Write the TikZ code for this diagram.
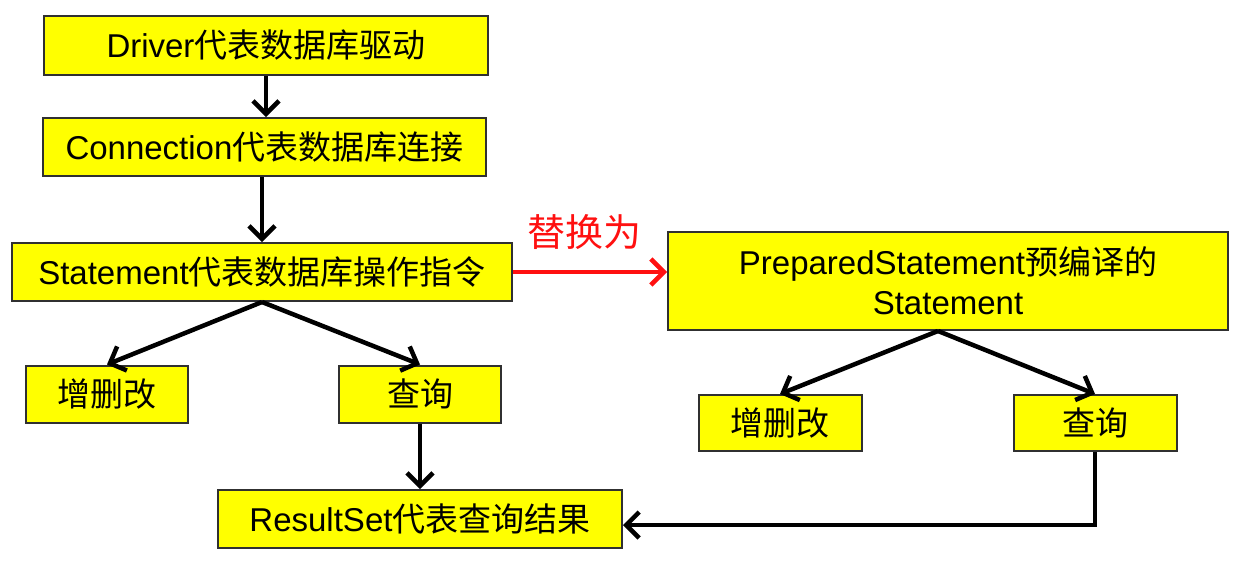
\documentclass[tikz,border=0pt]{standalone}
\usepackage{fontspec}
\setmainfont{Liberation Sans}
\newfontfamily\cjk{Noto Sans CJK SC}
\usetikzlibrary{arrows.meta}
\definecolor{boxyellow}{HTML}{FFFF00}
\definecolor{boxline}{HTML}{303030}
\definecolor{redarrow}{HTML}{FF1010}
\tikzset{
  ybox/.style={draw=boxline, line width=2pt, fill=boxyellow, inner sep=0pt,
    font=\fontsize{33}{40}\selectfont, align=center},
  conn/.style={line width=4.5pt, -{Straight Barb[length=13pt,width=26pt]}},
  redconn/.style={conn, draw=redarrow}
}
\begin{document}
\begin{tikzpicture}[x=1pt,y=-1pt]
\useasboundingbox (0,0) rectangle (1242,563);
\node[ybox, minimum width=444pt, minimum height=59pt] (drv) at (266,45.5) {Driver{\cjk 代表数据库驱动}};
\node[ybox, minimum width=443pt, minimum height=58pt] (cnx) at (264.5,147) {Connection{\cjk 代表数据库连接}};
\node[ybox, minimum width=500pt, minimum height=58pt] (stmt) at (262,272) {Statement{\cjk 代表数据库操作指令}};
\node[ybox, minimum width=162pt, minimum height=57pt] (add1) at (107,394) {\cjk 增删改};
\node[ybox, minimum width=162pt, minimum height=57pt] (qry1) at (420,394) {\cjk 查询};
\node[ybox, minimum width=404pt, minimum height=58pt] (rs) at (420,519) {ResultSet{\cjk 代表查询结果}};
\node[ybox, minimum width=560pt, minimum height=98pt] (prep) at (948,281) {PreparedStatement{\cjk 预编译的}\\Statement};
\node[ybox, minimum width=163pt, minimum height=56pt] (add2) at (780,423) {\cjk 增删改};
\node[ybox, minimum width=163pt, minimum height=56pt] (qry2) at (1095,423) {\cjk 查询};
\node[text=redarrow, font=\cjk\fontsize{38}{44}\selectfont] (repl) at (584,232) {替换为};
\coordinate (pfan) at ([xshift=-10pt]prep.south);
\coordinate (dtop) at (cnx.north -| drv.south);
\coordinate (ctop) at (stmt.north -| 262,0);
\draw[conn] (drv.south) -- (dtop);
\draw[conn] (cnx.south -| ctop) -- (ctop);
\draw[conn] (stmt.south) -- (add1.north);
\draw[conn] (stmt.south) -- (qry1.north);
\draw[conn] (qry1) -- (rs);
\draw[redconn] (stmt.east) -- (stmt.east -| prep.west);
\draw[conn] (pfan) -- (add2.north);
\draw[conn] (pfan) -- (qry2.north);
\draw[conn] (qry2.south) |- ([yshift=-6pt]rs.east);
\end{tikzpicture}
\end{document}
